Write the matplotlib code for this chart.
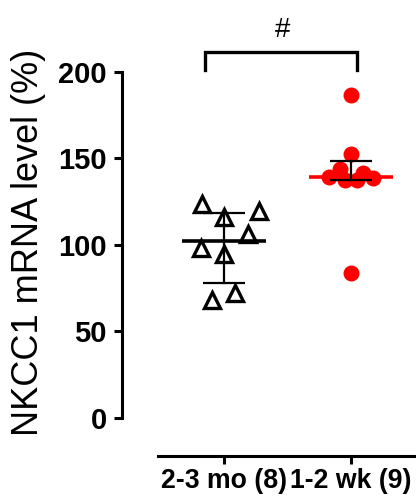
import numpy as np
import matplotlib
matplotlib.use("Agg")
import matplotlib.pyplot as plt

categories = ["2-3 mo (8)", "1-2 wk (9)"]
old_values = [123.5, 119.5, 116, 106.5, 98, 95, 72, 68]
old_jitter = [-0.17, 0.28, 0.0, 0.19, -0.18, 0.0, 0.09, -0.09]
young_values = [186.7, 152.6, 139.3, 144.0, 137.6, 137.6, 141.6, 138.7, 83.8]
young_jitter = [0.0, 0.0, -0.17, -0.09, -0.05, 0.05, 0.09, 0.17, 0.0]
yticks = [0, 50, 100, 150, 200]
sig_label = "#"

plt.rcParams['font.family'] = ['Liberation Sans', 'DejaVu Sans']

fig = plt.figure(figsize=(4.16, 5.01), dpi=100)
ax = fig.add_axes([122/416, 45/501, 1 - 122/416, (456-72)/501])

ax.set_ylim(-21.97, 200)
ax.set_xlim(-0.80, 1.51)

# group 1: open triangles
ax.plot(np.array(old_jitter) + 0, old_values, linestyle='none', marker='^',
        markersize=11, markerfacecolor='white', markeredgecolor='black',
        markeredgewidth=2.4, zorder=3, clip_on=False)
# group 2: red dots
ax.plot(np.array(young_jitter) + 1, young_values, linestyle='none', marker='o',
        markersize=11.5, color='#FF0000', markeredgewidth=0, zorder=3, clip_on=False)

# median with interquartile range
for i, (vals, col) in enumerate([(old_values, 'black'), (young_values, '#FF0000')]):
    med = np.median(vals)
    q1, q3 = np.percentile(vals, [25, 75], method='weibull')
    ax.plot([i - 0.33, i + 0.33], [med, med], color=col, lw=2.6, zorder=4,
            solid_capstyle='butt')
    ax.plot([i, i], [q1, q3], color='black', lw=1.6, zorder=5)
    for q in (q1, q3):
        ax.plot([i - 0.165, i + 0.165], [q, q], color='black', lw=1.6, zorder=5,
                solid_capstyle='butt')

# significance bracket
ax.plot([-0.15, -0.15, 1.05, 1.05], [201, 211.6, 211.6, 201], color='black',
        lw=2.4, clip_on=False, solid_joinstyle='miter')
ax.text(0.46, 224, sig_label, ha='center', va='center', fontsize=20)

for s in ['top', 'right']:
    ax.spines[s].set_visible(False)
ax.spines['left'].set_bounds(0, 200)
ax.spines['bottom'].set_bounds(-0.52, 1.51)
ax.spines['left'].set_linewidth(2.2)
ax.spines['bottom'].set_linewidth(2.2)

ax.set_yticks(yticks)
ax.set_yticklabels([str(t) for t in yticks], fontsize=21, fontweight='bold')
ax.set_xticks([0, 1])
ax.set_xticklabels(categories, fontsize=19.2, fontweight='bold')
ax.tick_params(axis='y', length=6, width=2.2, pad=5)
ax.tick_params(axis='x', length=6, width=2.2, pad=3)

ax.set_ylabel("NKCC1 mRNA level (%)", fontsize=26)
ax.yaxis.set_label_coords(-(122-46)/294, (456-242)/384)

fig.savefig("out.png", dpi=100)
